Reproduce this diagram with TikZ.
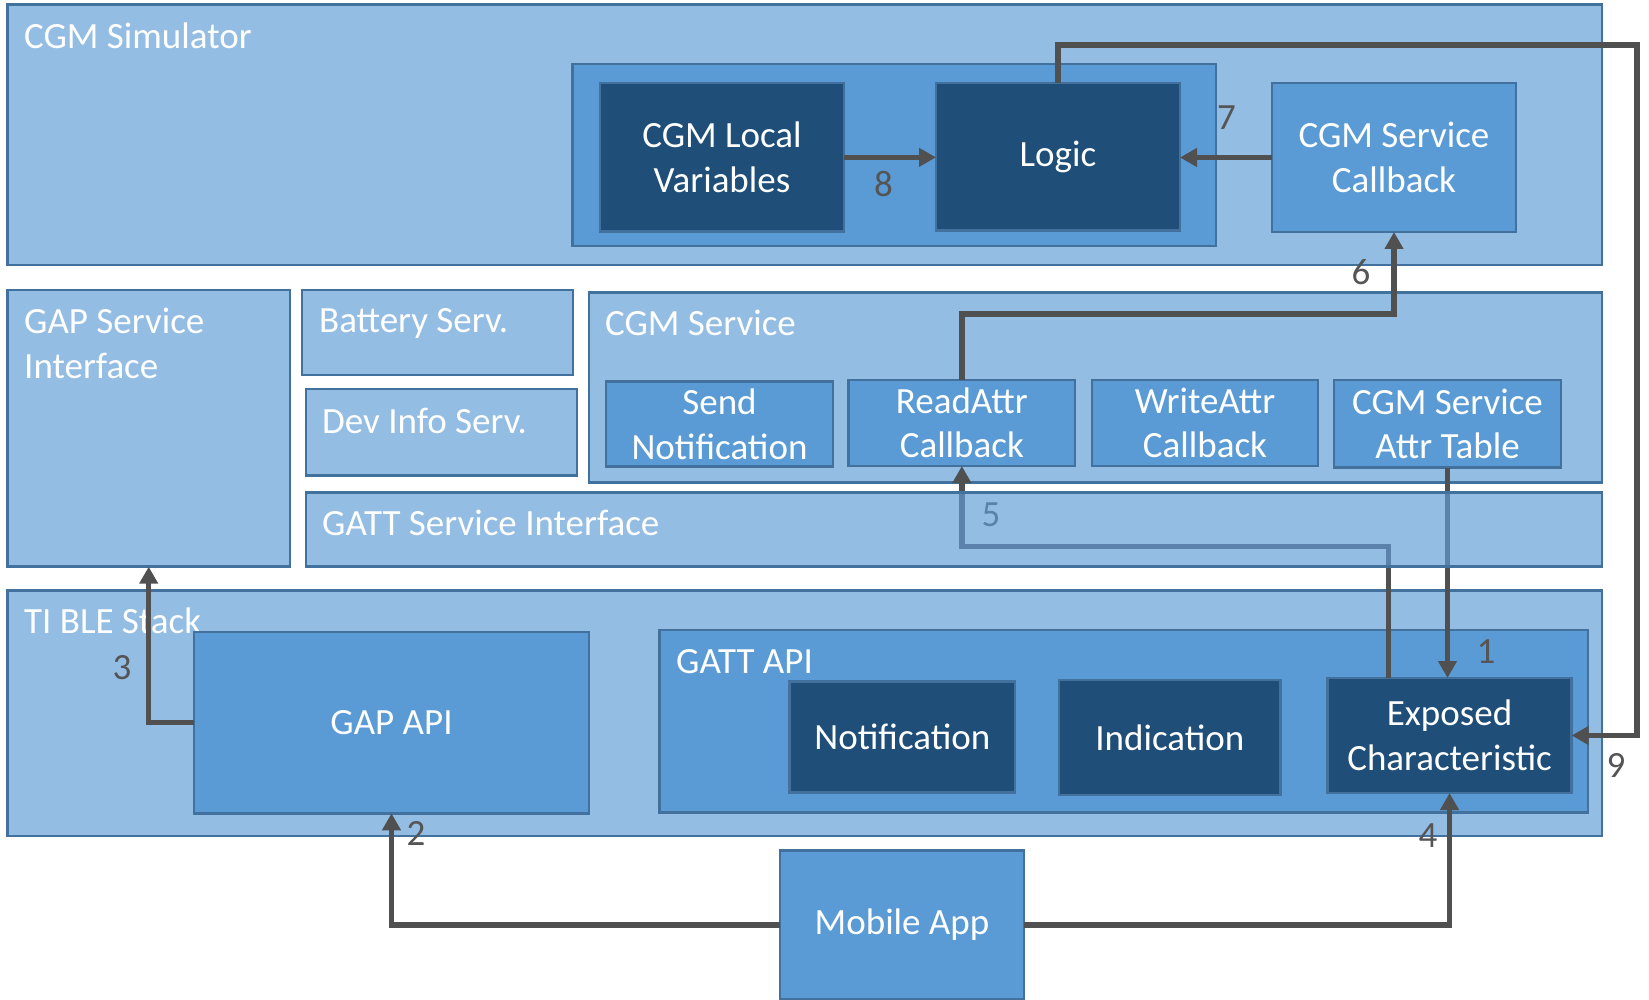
\documentclass[tikz,border=0pt]{standalone}
\usepackage{fontspec}
\setmainfont{Carlito}
\usetikzlibrary{arrows.meta}
\definecolor{paleblue}{RGB}{148,189,228}
\definecolor{midblue}{RGB}{91,155,213}
\definecolor{deepblue}{RGB}{31,78,121}
\definecolor{edgeblue}{RGB}{65,113,156}
\definecolor{wire}{RGB}{80,80,80}
\definecolor{wirehidden}{RGB}{90,130,170}
\definecolor{stepgray}{RGB}{85,85,85}
\begin{document}
\begin{tikzpicture}[x=1pt,y=-1pt,
	every node/.style={font=\fontsize{37}{44.5}\selectfont,inner sep=0pt},
	pane/.style={draw=edgeblue,line width=2.5pt,fill=#1,anchor=north west,outer sep=0pt,text=white,align=center},
	title/.style={anchor=base west,text=white},
	wire/.style={draw=wire,line width=5.5pt,-{Triangle[length=17pt,width=18pt]}},
	num/.style={text=stepgray}]
	\useasboundingbox (0,0) rectangle (1649,1000);
	% CGM simulator
	\path (7.4,4.7)   node [pane=paleblue,minimum width=1594.4pt,minimum height=260.3pt] (sim) {} node [title] at (24,48.8) {CGM Simulator};
	\path (572.5,64)  node [pane=midblue,minimum width=643.5pt,minimum height=182pt] (simcore) {};
	\path (600,83)    node [pane=deepblue,minimum width=244pt,minimum height=148.7pt] (localvar) {CGM Local\\Variables};
	\path (936,83)    node [pane=deepblue,minimum width=244pt,minimum height=147.7pt] (logic) {Logic};
	\path (1272,83)   node [pane=midblue,minimum width=244pt,minimum height=149pt] (svccb) {CGM Service\\Callback};
	% services
	\path (7.4,290)   node [pane=paleblue,minimum width=282.6pt,minimum height=276.7pt] (gapsi) {} node [anchor=north west,align=left,text=white] at (24,308) {GAP Service\\Interface};
	\path (302,290)   node [pane=paleblue,minimum width=271pt,minimum height=85pt] (battery) {} node [title] at (319,332.8) {Battery Serv.};
	\path (306,389)   node [pane=paleblue,minimum width=271pt,minimum height=86.7pt] (devinfo) {} node [title] at (322,433.8) {Dev Info Serv.};
	\path (589,292.7) node [pane=paleblue,minimum width=1012.8pt,minimum height=190pt] (cgmsvc) {} node [title] at (605,335.5) {CGM Service};
	\path (606,381.7) node [pane=midblue,minimum width=227pt,minimum height=85pt] (sendnote) {Send\\Notification};
	\path (848.7,380) node [pane=midblue,minimum width=226.3pt,minimum height=86pt] (readattr) {ReadAttr\\Callback};
	\path (1092,380)  node [pane=midblue,minimum width=226pt,minimum height=86pt] (writeattr) {WriteAttr\\Callback};
	\path (1334,380)  node [pane=midblue,minimum width=227pt,minimum height=87.7pt] (attrtable) {CGM Service\\Attr Table};
	\path (306,492.7) node [pane=paleblue,minimum width=1295.8pt,minimum height=74pt] (gattsi) {} node [title] at (322,535) {GATT Service Interface};
	% BLE stack
	\path (7.4,590.7) node [pane=paleblue,minimum width=1594.4pt,minimum height=245.3pt] (stack) {} node [title] at (24,633.8) {TI BLE Stack};
	\path (194,632)   node [pane=midblue,minimum width=395pt,minimum height=181.3pt] (gapapi) {GAP API};
	\path (659.3,630) node [pane=midblue,minimum width=928.7pt,minimum height=182.3pt] (gattapi) {} node [title] at (676,673.8) {GATT API};
	\path (789.7,681.7) node [pane=deepblue,minimum width=225.3pt,minimum height=111pt] (notify) {Notification};
	\path (1059,680)  node [pane=deepblue,minimum width=221.7pt,minimum height=115pt] (indicate) {Indication};
	\path (1327.5,678) node [pane=deepblue,minimum width=244.1pt,minimum height=115pt] (exposed) {Exposed\\Characteristic};
	\path (780,850.7) node [pane=midblue,minimum width=244pt,minimum height=148.6pt] (mobile) {Mobile App};

	% connectors
	\coordinate (top9) at (1637,45);
	\coordinate (bend6) at (0,314);
	\coordinate (bend5) at (0,546.7);
	\draw [wire] (mobile.east) -| (exposed.south);
	\draw [wire] (mobile.west) -| (gapapi.south);
	\draw [wire] (gapapi.west) -| (gapsi.south);
	\draw [wire] (attrtable.south) -- (attrtable.south |- exposed.north);
	\draw [wire] ([xshift=-61pt]exposed.north) |- (readattr.south |- bend5) -- (readattr.south);
	\draw [wire] (readattr.north) |- (svccb.south |- bend6) -- (svccb.south);
	\draw [wire] (svccb.west) -- (svccb.west -| logic.east);
	\draw [wire] (localvar.east) -- (localvar.east -| logic.west);
	\draw [wire] (logic.north) |- (top9) |- (exposed.east);
	% lines seen through the GATT service interface
	\begin{scope}
		\clip (gattsi.north west) rectangle (gattsi.south east);
		\draw [wire,draw=wirehidden,-] (attrtable.south) -- (attrtable.south |- exposed.north);
		\draw [wire,draw=wirehidden,-] ([xshift=-61pt]exposed.north) |- (readattr.south |- bend5) -- (readattr.south);
	\end{scope}
	\draw [draw=edgeblue,line width=2.5pt] (gattsi.north west) rectangle (gattsi.south east);

	\node [num] (n1) at (1486,651.7) {1};
	\node [num] (n2) at (416,833)    {2};
	\node [num] (n3) at (122,668)    {3};
	\node [num] (n4) at (1428,836)   {4};
	\node [num,text=wirehidden] (n5) at (991,515) {5};
	\node [num] (n6) at (1361,272)   {6};
	\node [num] (n7) at (1226.5,118) {7};
	\node [num] (n8) at (883.5,184)  {8};
	\node [num] (n9) at (1616,765)   {9};
\end{tikzpicture}
\end{document}
